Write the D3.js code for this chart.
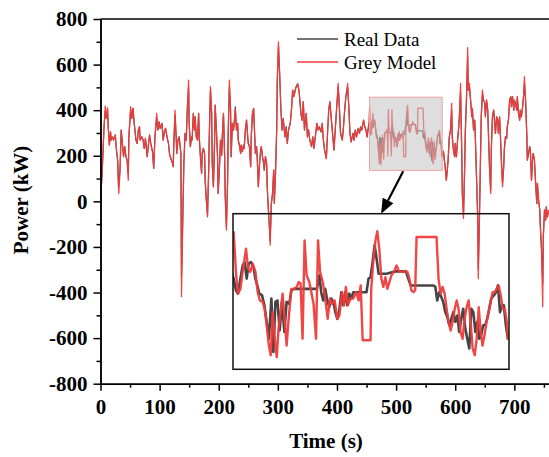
<!DOCTYPE html>
<html>
<head>
<meta charset="utf-8">
<script src="https://cdn.jsdelivr.net/npm/d3@7"></script>
<style>
body { margin: 0; background: #fff; }
svg { display: block; }
</style>
</head>
<body>
<div id="chart"></div>
<script>
// time (s) and power (kW)
// part A: 0 - 454 s, same time stamps for both series
var tA = [0,3,6,8,10,12,13,15,17,18,
  20,22,25,27,29,30,31,33,35,37,
  39,41,43,45,47,48,51,53,55,57,
  60,62,64,66,67,70,72,74,76,79,
  81,83,85,88,90,92,95,97,99,101,
  104,106,108,110,113,115,117,119,122,123,
  124,126,128,129,131,133,136,137,139,141,
  143,145,147,149,150,152,154,155,157,159,
  160,162,164,166,167,169,171,172,174,176,
  177,179,181,183,184,186,188,189,191,193,
  194,196,198,199,201,203,205,206,208,210,
  211,213,215,216,218,220,221,223,225,227,
  228,230,232,233,235,237,238,240,242,243,
  245,247,249,250,252,254,255,257,259,260,
  262,264,265,267,269,271,272,274,276,277,
  279,281,282,284,286,287,289,291,293,294,
  296,298,299,301,303,305,307,309,312,314,
  316,318,321,323,325,327,330,332,334,336,
  339,341,343,345,348,350,352,354,357,359,
  361,364,366,368,370,373,375,377,379,382,
  384,386,388,391,393,395,397,400,402,404,
  406,409,411,413,415,418,420,422,424,427,
  429,431,433,436,438,440,442,445,447,449,
  451,454];
var realA = [0,137,327,395,364,400,327,247,305,269,
  283,269,291,225,181,110,70,137,313,254,
  196,240,196,181,120,283,400,364,408,342,
  269,254,313,327,269,283,269,232,276,196,
  247,291,254,218,145,276,370,313,349,320,
  342,269,305,320,276,254,203,188,166,152,
  254,380,283,210,269,283,210,-330,-100,166,
  298,269,415,500,342,240,283,269,386,313,
  371,283,269,386,283,196,123,210,232,210,
  93,6,-60,137,283,490,386,166,64,269,
  422,313,196,35,137,269,203,283,386,196,
  20,-110,93,298,500,400,196,342,313,371,
  415,313,342,269,247,210,247,218,247,232,
  313,356,283,254,240,152,283,386,408,342,
  210,240,196,64,166,225,240,196,166,137,
  196,166,64,-38,-126,-175,-9,35,137,-9,
  123,313,520,680,561,415,313,364,283,327,
  254,313,342,400,488,459,495,510,505,481,
  386,356,437,313,386,283,313,269,240,283,
  232,298,342,313,327,305,342,269,225,188,
  298,400,437,342,283,225,313,430,505,415,
  298,269,327,400,459,500,415,298,261,298,
  269,313,283,320,298,327,313,356,327,313,
  283,342];
var modelA = [0,140,330,418,364,410,327,247,305,269,
  283,269,291,225,181,79,35,137,313,254,
  196,240,196,181,93,283,415,364,408,342,
  269,254,313,327,269,283,269,232,276,196,
  247,291,254,218,145,276,386,313,349,320,
  342,269,305,320,276,254,203,188,166,152,
  254,400,283,210,269,283,210,-418,-100,166,
  298,269,415,532,342,240,283,269,386,313,
  371,283,269,386,283,196,123,210,232,210,
  93,6,-68,137,283,503,386,166,64,269,
  422,313,196,35,137,269,203,283,386,196,
  20,-126,93,298,532,400,196,342,313,371,
  405,313,342,269,247,210,247,218,247,232,
  313,356,283,254,240,152,283,386,408,342,
  210,240,196,64,166,225,240,196,166,137,
  196,166,64,-38,-126,-192,-9,35,137,-9,
  123,313,532,700,561,415,313,364,283,327,
  254,313,342,400,488,459,495,510,517,481,
  386,356,437,313,386,283,313,269,240,283,
  232,298,342,313,327,305,342,269,225,188,
  298,400,437,342,283,225,313,430,517,415,
  298,269,327,400,459,517,415,298,261,298,
  269,313,283,320,298,327,313,356,327,313,
  283,342];

// part B: the zoomed window 455 - 578 s
var tRealB = [455.3,456.3,457.2,458.3,459.3,460.2,461.1,462,463,464.1,
  465,466,466.7,467.9,469,470,471,472.1,473,473.9,
  474.8,475.8,476.8,477.9,478.9,480.1,481,482.2,492.4,493.5,
  494.3,495.2,496.1,497,497.9,498.8,499.7,500.6,501.5,502.4,
  503.3,504.2,505,505.9,506.8,507.7,508.6,514.5,515.4,516.3,
  517.2,518.1,519,519.9,523.5,525,526.4,527.9,532.1,533.1,
  534.2,544.3,545.2,546,546.9,547.8,548.7,549.6,550.5,551.4,
  552.3,553.2,554.1,555,555.8,556.7,557.6,558.5,559.4,560.3,
  561.2,562.1,563,563.9,564.8,565.6,566.5,567.4,568.3,569.2,
  570.1,571.3,572.2,573.1,574,574.9,575.7,576.6,577.5];
var realB = [323,299,292,323,350,357,323,354,357,347,
  323,306,292,289,268,234,199,282,172,275,
  278,216,275,213,275,271,299,302,302,330,
  295,278,302,278,264,282,275,254,240,258,
  295,268,295,268,292,282,295,295,323,326,
  357,392,364,333,333,335,337,338,338,323,
  309,309,306,278,295,285,275,254,244,227,
  240,254,234,247,213,240,261,220,199,179,
  261,254,213,234,199,206,227,227,240,261,
  282,289,295,309,254,268,268,227,199];
var tModelB = [455.3,456.3,457.2,458.3,459.3,460.8,461.7,462.7,463.8,465,
  466,467,468.2,469.1,470,471,471.8,472.7,473.6,474.5,
  475.3,476.2,477.1,478,478.9,479.8,481,482.2,483.4,484.3,
  485.1,486,486.9,487.8,489,489.9,490.9,492,492.9,493.8,
  495,496.1,497.2,498.2,499.1,500.3,501.5,502.4,503.6,504.5,
  505.3,506.2,507.4,508.6,509.8,511,511.9,512.8,516.3,516.6,
  517.5,518.4,519.3,520.2,521.1,522,522.9,523.8,524.7,525.6,
  526.7,527.9,529.1,531.5,532.7,533.6,534.5,535.4,536.2,536.8,
  545.7,546.6,547.5,548.4,549.3,550.2,551.1,552,552.9,553.8,
  554.7,555.5,556.4,557.3,558.2,559.1,560,560.9,561.8,562.7,
  563.6,564.5,565.4,566.2,567.1,568,568.9,569.8,570.7,571.6,
  572.5,573.4,574.3,575.2,576.1,577,577.5];
var modelB = [419,337,292,302,337,385,344,337,354,337,
  295,278,275,261,227,185,165,254,199,161,
  220,254,292,240,185,240,302,302,306,316,
  313,199,402,330,316,295,271,199,402,337,
  316,282,240,282,271,278,240,247,295,268,
  306,268,282,282,295,278,309,196,196,302,
  357,399,421,385,323,306,326,302,316,330,
  337,350,337,338,337,323,299,295,299,409,
  409,323,292,306,292,261,234,216,234,261,
  278,261,213,199,240,264,278,234,179,165,
  199,264,213,185,206,234,254,275,295,295,
  302,309,289,261,261,234,199];

// part C: 580 - 758 s
var tC = [580,583,585,588,590,592,594,595,597,599,
  600,602,604,606,607,609,611,612,614,616,
  617,619,621,622,624,626,628,629,631,633,
  634,636,638,639,641,643,644,646,648,650,
  651,653,655,656,658,660,661,663,665,666,
  668,670,672,673,675,677,678,680,682,683,
  685,687,688,690,692,694,695,697,699,700,
  702,704,705,707,709,710,712,714,716,717,
  719,721,722,724,726,727,729,731,732,734,
  736,738,739,741,743,744,746,748,749,751,
  753,754,756,758];
var realC = [220,150,93,181,283,313,400,283,225,196,
  254,196,269,327,371,480,225,35,-55,152,
  298,444,640,488,500,444,371,408,313,356,
  283,108,-68,-300,-68,225,371,470,444,430,
  371,444,400,313,152,50,225,371,400,371,
  298,371,356,298,371,254,181,80,152,225,
  283,276,327,356,444,459,415,459,400,444,
  430,400,459,386,356,400,371,415,474,520,
  444,298,181,210,240,225,93,196,210,181,
  79,-9,79,6,-38,-111,-214,-360,-155,-38,
  -82,-24,-68,-38];
var modelC = [220,150,93,181,283,313,430,283,225,196,
  254,196,269,327,371,517,225,35,-75,152,
  298,444,674,488,517,444,371,408,313,356,
  283,108,-68,-340,-68,225,371,488,444,430,
  371,444,400,313,152,35,225,371,400,371,
  298,371,356,298,371,254,181,64,152,225,
  283,276,327,356,444,459,415,459,400,444,
  430,400,459,386,356,400,371,415,474,547,
  444,298,181,210,240,225,93,196,210,181,
  79,-9,79,6,-38,-111,-214,-462,-155,-38,
  -82,-24,-68,-38];

var xTicks = [0, 100, 200, 300, 400, 500, 600, 700];
var yTicks = [-800, -600, -400, -200, 0, 200, 400, 600, 800];
var seriesNames = ["Real Data", "Grey Model"];
var zoomWindow = {t0: 455, t1: 578, p0: 136, p1: 457};

var W = 549, H = 457;
var font = "'Liberation Serif', 'Times New Roman', serif";
var darkColor = "#454545", redColor = "#f03c3c";

var realData = d3.zip(tA.concat(tRealB, tC), realA.concat(realB, realC));
var modelData = d3.zip(tA.concat(tModelB, tC), modelA.concat(modelB, modelC));

var svg = d3.select("#chart").append("svg")
    .attr("width", W)
    .attr("height", H);

var x = d3.scaleLinear().domain([0, 762]).range([100.5, 551]);
var y = d3.scaleLinear().domain([-800, 800]).range([383.7, 19]);

// inset scales
var xi = d3.scaleLinear().domain([zoomWindow.t0, zoomWindow.t1]).range([233, 509]);
var yi = d3.scaleLinear().domain([zoomWindow.p0, zoomWindow.p1]).range([369.3, 213.7]);

var defs = svg.append("defs");
defs.append("clipPath").attr("id", "clipMain")
  .append("rect")
    .attr("x", x(0)).attr("y", y(800))
    .attr("width", x(762) - x(0)).attr("height", y(-800) - y(800));
defs.append("clipPath").attr("id", "clipInset")
  .append("rect")
    .attr("x", xi.range()[0]).attr("y", yi.range()[1])
    .attr("width", xi.range()[1] - xi.range()[0])
    .attr("height", yi.range()[0] - yi.range()[1]);

var line = d3.line().x(function(d) { return x(d[0]); }).y(function(d) { return y(d[1]); });
var lineInset = d3.line().x(function(d) { return xi(d[0]); }).y(function(d) { return yi(d[1]); });

var mainG = svg.append("g").attr("clip-path", "url(#clipMain)");
mainG.append("path").datum(realData)
    .attr("d", line).attr("fill", "none")
    .attr("stroke", darkColor).attr("stroke-width", 1.2)
    .attr("stroke-linejoin", "round");
mainG.append("path").datum(modelData)
    .attr("d", line).attr("fill", "none")
    .attr("stroke", redColor).attr("stroke-width", 1.3)
    .attr("stroke-opacity", 0.95)
    .attr("stroke-linejoin", "round");

// grey zoom window on top of the lines
svg.append("rect")
    .attr("x", x(zoomWindow.t0)).attr("y", y(zoomWindow.p1))
    .attr("width", x(zoomWindow.t1) - x(zoomWindow.t0))
    .attr("height", y(zoomWindow.p0) - y(zoomWindow.p1))
    .attr("fill", "rgb(195,195,195)").attr("fill-opacity", 0.55)
    .attr("stroke", "#f2a3a3").attr("stroke-width", 1);

// inset
function inWindow(d) { return d[0] >= zoomWindow.t0 - 3 && d[0] <= zoomWindow.t1 + 3; }
var insetG = svg.append("g").attr("clip-path", "url(#clipInset)");
insetG.append("path").datum(realData.filter(inWindow))
    .attr("d", lineInset).attr("fill", "none")
    .attr("stroke", darkColor).attr("stroke-width", 2.6)
    .attr("stroke-linejoin", "round");
insetG.append("path").datum(modelData.filter(inWindow))
    .attr("d", lineInset).attr("fill", "none")
    .attr("stroke", redColor).attr("stroke-width", 2.4)
    .attr("stroke-opacity", 0.95)
    .attr("stroke-linejoin", "round");
svg.append("rect")
    .attr("x", xi.range()[0]).attr("y", yi.range()[1])
    .attr("width", xi.range()[1] - xi.range()[0])
    .attr("height", yi.range()[0] - yi.range()[1])
    .attr("fill", "none").attr("stroke", "#111").attr("stroke-width", 1.5);

// arrow from the grey window to the inset
var a0 = [x(512), y(zoomWindow.p0) + 1], a1 = [xi(521), yi(zoomWindow.p1)];
var dx = a1[0] - a0[0], dy = a1[1] - a0[1], len = Math.sqrt(dx * dx + dy * dy);
var ux = dx / len, uy = dy / len, headL = 15, headW = 6;
var bx = a1[0] - ux * headL, by = a1[1] - uy * headL;
svg.append("line")
    .attr("x1", a0[0]).attr("y1", a0[1]).attr("x2", bx).attr("y2", by)
    .attr("stroke", "#000").attr("stroke-width", 2.2);
svg.append("polygon")
    .attr("points", [a1, [bx - uy * headW, by + ux * headW], [bx + uy * headW, by - ux * headW]].join(" "))
    .attr("fill", "#000");

// axes
function styleAxis(g) {
  g.attr("font-family", font);
  g.selectAll("path, line").attr("stroke", "#000").attr("stroke-width", 1.5);
  g.selectAll("text").style("font-family", font).attr("font-weight", "bold")
    .attr("font-size", "21px").attr("fill", "#000");
}
function plain(v) { return String(v); }
svg.append("g").attr("transform", "translate(0," + y(-800) + ")")
    .call(d3.axisBottom(x).tickValues(xTicks).tickSize(7).tickSizeOuter(0).tickPadding(8).tickFormat(plain))
    .call(styleAxis);
svg.append("g").attr("transform", "translate(0," + y(-800) + ")")
    .call(d3.axisBottom(x).tickValues(xTicks.map(function(v) { return v + 50; })).tickSize(4).tickSizeOuter(0).tickFormat(""))
    .call(styleAxis);
svg.append("g").attr("transform", "translate(" + x(0) + ",0)")
    .call(d3.axisLeft(y).tickValues(yTicks).tickSize(7).tickSizeOuter(0).tickPadding(6).tickFormat(plain))
    .call(styleAxis);
svg.append("g").attr("transform", "translate(" + x(0) + ",0)")
    .call(d3.axisLeft(y).tickValues(yTicks.slice(1).map(function(v) { return v - 100; })).tickSize(4).tickSizeOuter(0).tickFormat(""))
    .call(styleAxis);
svg.append("line")
    .attr("x1", x(0)).attr("x2", x(762)).attr("y1", y(800)).attr("y2", y(800))
    .attr("stroke", "#000").attr("stroke-width", 1.5);

// axis titles
svg.append("text")
    .attr("x", 326).attr("y", 448)
    .attr("text-anchor", "middle")
    .attr("font-family", font).attr("font-weight", "bold").attr("font-size", "21px")
    .text("Time (s)");
svg.append("text")
    .attr("transform", "translate(28,200) rotate(-90)")
    .attr("text-anchor", "middle")
    .attr("font-family", font).attr("font-weight", "bold").attr("font-size", "21px")
    .text("Power (kW)");

// legend
var legColors = [darkColor, redColor];
seriesNames.forEach(function(name, i) {
  var ly = 39 + i * 23;
  svg.append("line")
      .attr("x1", 297).attr("x2", 338).attr("y1", ly).attr("y2", ly)
      .attr("stroke", legColors[i]).attr("stroke-width", 1.5);
  svg.append("text")
      .attr("x", 344).attr("y", ly + 6.5)
      .attr("font-family", font).attr("font-size", "19px")
      .text(name);
});
</script>
</body>
</html>
